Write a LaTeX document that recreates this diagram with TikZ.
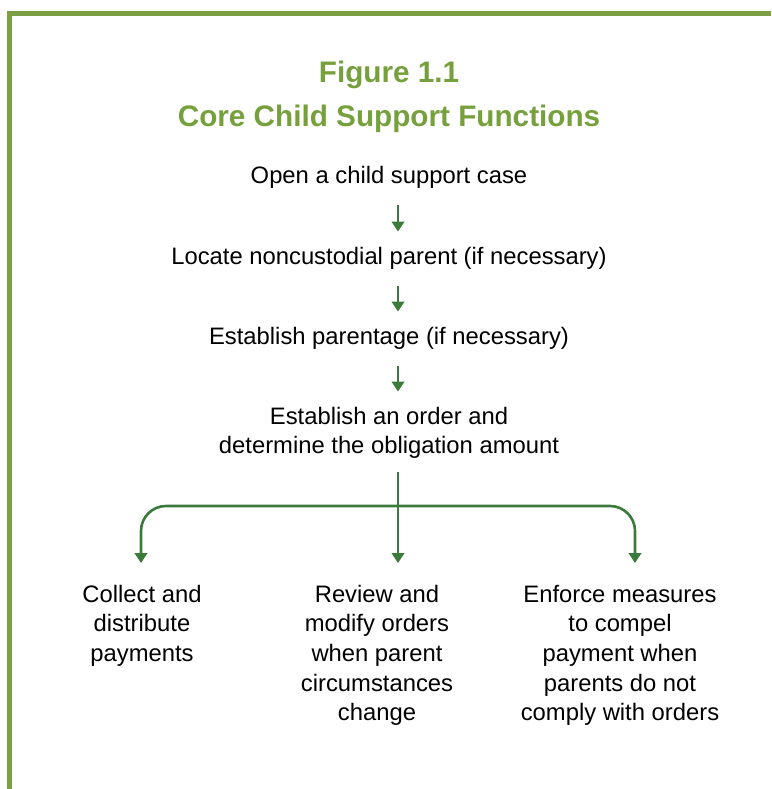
\documentclass[tikz,border=0pt]{standalone}
\usepackage{fontspec}
\setmainfont{Liberation Sans}
\usetikzlibrary{arrows.meta}
\definecolor{frameolive}{HTML}{7BA043}
\definecolor{titleolive}{HTML}{76A03C}
\definecolor{arrowgreen}{HTML}{3B7A3B}
\begin{document}
\begin{tikzpicture}[x=1pt,y=-1pt,
  titletext/.style={font=\fontsize{29.7}{36}\selectfont\bfseries, text=titleolive, inner sep=0pt, anchor=base},
  steptext/.style={font=\fontsize{23.8}{29.7}\selectfont, align=center, inner sep=0pt, anchor=base},
  flow/.style={draw=arrowgreen, line width=2.6pt, -{Triangle[width=12.5pt,length=10pt]}},
  ]
  \useasboundingbox (0,0) rectangle (771,789);
  % frame: top and left bars
  \fill[frameolive] (7,11) rectangle (771,16);
  \fill[frameolive] (7,11) rectangle (12,789);

  % title
  \node[titletext] (fig) at (389,83) {Figure 1.1};
  \node[titletext] (title) at (389,127) {Core Child Support Functions};

  % axis of the flow
  \coordinate (ax) at (398,0);

  % steps (base anchor sits on the last line of a node)
  \node[steptext] (open) at (389,183) {Open a child support case};
  \node[steptext] (locate) at (389,264) {Locate noncustodial parent (if necessary)};
  \node[steptext] (parent) at (389,344) {Establish parentage (if necessary)};
  \node[steptext] (order) at (389,453.7) {Establish an order and\\determine the obligation amount};

  % outcomes
  \node[steptext] (collect) at (142,661.4) {Collect and\\distribute\\payments};
  \node[steptext] (review) at (377,720.8) {Review and\\modify orders\\when parent\\circumstances\\change};
  \node[steptext] (enforce) at (620,720.8) {Enforce measures\\to compel\\payment when\\parents do not\\comply with orders};

  % connectors
  \draw[flow, shorten <=17pt, shorten >=15pt] (open.south -| ax) -- (locate.north -| ax);
  \draw[flow, shorten <=17pt, shorten >=15pt] (locate.south -| ax) -- (parent.north -| ax);
  \draw[flow, shorten <=17pt, shorten >=15pt] (parent.south -| ax) -- (order.north -| ax);

  \coordinate (split) at (398,506);
  \coordinate (tipl) at (141,563);
  \coordinate (tipr) at (635,563);
  \draw[flow, shorten <=13pt] (order.south -| ax) -- (ax |- tipl);
  \draw[flow, rounded corners=25pt] (split) -| (tipl);
  \draw[flow, rounded corners=25pt] (split) -| (tipr);
\end{tikzpicture}
\end{document}
